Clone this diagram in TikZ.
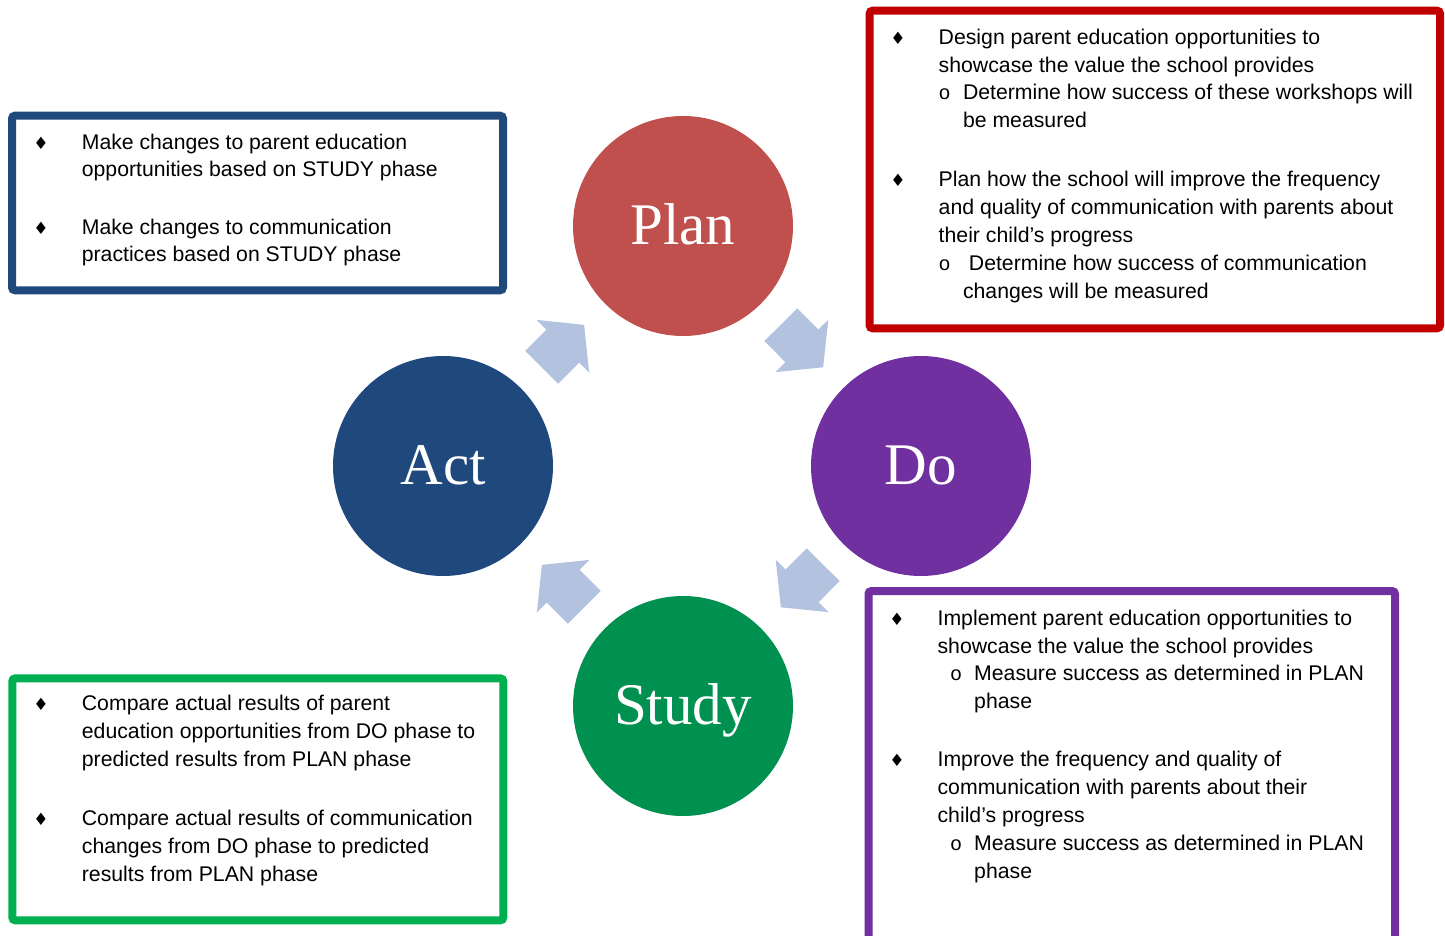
\documentclass[tikz,border=0pt]{standalone}
\usepackage{fontspec}
\setmainfont{Liberation Sans}
\newfontfamily\circfont{Liberation Serif}
\newfontfamily\bulfont{DejaVu Sans}
\newfontfamily\subfont{Liberation Mono}
\usetikzlibrary{shapes.arrows,calc}

\definecolor{planred}{HTML}{C0504D}
\definecolor{dopurple}{HTML}{7030A0}
\definecolor{actblue}{HTML}{1F497D}
\definecolor{studygreen}{HTML}{00904F}
\definecolor{boxred}{HTML}{C00000}
\definecolor{boxgreen}{HTML}{00B050}
\definecolor{arrowblue}{HTML}{B3C3DF}

% lines of one list item, first baseline on the node's base
\newcommand{\lns}[1]{\begin{tabular}[t]{@{}l@{}}#1\end{tabular}}

\tikzset{
  phase/.style={circle, minimum size=220pt, inner sep=0pt, text=white,
    font=\circfont\fontsize{59}{59}\selectfont, text height=36pt, text depth=0pt},
  cyclearrow/.style={single arrow, fill=arrowblue, draw=none,
    inner xsep=0pt, inner ysep=23pt, minimum height=60pt,
    single arrow head extend=14pt, single arrow tip angle=102},
  infobox/.style={line width=8pt, rounded corners=3pt},
  item/.style={anchor=base west, inner sep=0pt, font=\fontsize{21.25}{28}\selectfont},
  itemsm/.style={anchor=base west, inner sep=0pt, font=\fontsize{21.2}{27}\selectfont},
  bul/.style={anchor=base, inner sep=0pt, font=\bulfont\fontsize{17}{17}\selectfont},
  subbul/.style={anchor=base, inner sep=0pt, font=\subfont\fontsize{20}{28}\selectfont},
}

\begin{document}
\begin{tikzpicture}[x=1pt, y=-1pt]
\useasboundingbox (0,0) rectangle (1445,936);
\fill[white] (0,0) rectangle (1445,936);
\clip (0,0) rectangle (1445,936);

% the four phases of the cycle
\node[phase, fill=planred]    (plan)  at (683,226) {Plan};
\node[phase, fill=dopurple]   (do)    at (921,466) {Do};
\node[phase, fill=studygreen] (study) at (683,706) {Study};
\node[phase, fill=actblue]    (act)   at (443,466) {Act};

% block arrows between consecutive phases
\path (act)   -- (plan)  node[pos=0.42, sloped, allow upside down, cyclearrow] (a1) {};
\path (plan)  -- (do)    node[pos=0.42, sloped, allow upside down, cyclearrow] (a2) {};
\path (do)    -- (study) node[pos=0.42, sloped, allow upside down, cyclearrow] (a3) {};
\path (study) -- (act)   node[pos=0.42, sloped, allow upside down, cyclearrow] (a4) {};

% frames of the four descriptions
\draw[infobox, draw=actblue]  (12,115.7)   rectangle (503,290.3);
\draw[infobox, draw=boxred]   (869.6,10.7) rectangle (1440,328.3);
\draw[infobox, draw=dopurple] (868.5,591)  rectangle (1395,960);
\draw[infobox, draw=boxgreen] (12.3,678.3) rectangle (503.3,920.3);

% ACT
\node[bul] (actb1) at (41,149.3) {♦};
\node[itemsm] (actt1) at (81.7,149.3) {\lns{Make changes to parent education\\opportunities based on STUDY phase}};
\node[bul] (actb2) at (41,234.5) {♦};
\node[itemsm] (actt2) at (81.7,234.5) {\lns{Make changes to communication\\practices based on STUDY phase}};

% PLAN
\node[bul] (planb1) at (898,44.3) {♦};
\node[item] (plant1) at (938.5,44.3) {\lns{Design parent education opportunities to\\showcase the value the school provides}};
\node[subbul] (plans1) at (944.6,99.3) {o};
\node[item] (plant1s) at (962.8,99.3) {\lns{Determine how success of these workshops will\\be measured}};
\node[bul] (planb2) at (898,186.7) {♦};
\node[item] (plant2) at (938.5,186.7) {\lns{Plan how the school will improve the frequency\\and quality of communication with parents about\\their child’s progress}};
\node[subbul] (plans2) at (944.6,270.7) {o};
\node[item] (plant2s) at (962.8,270.7) {\lns{\ Determine how success of communication\\changes will be measured}};

% DO
\node[bul] (dob1) at (897,625) {♦};
\node[item] (dot1) at (937.4,625) {\lns{Implement parent education opportunities to\\showcase the value the school provides}};
\node[subbul] (dos1) at (956,680) {o};
\node[item] (dot1s) at (974,680) {\lns{Measure success as determined in PLAN\\phase}};
\node[bul] (dob2) at (897,766.7) {♦};
\node[item] (dot2) at (937.4,766.7) {\lns{Improve the frequency and quality of\\communication with parents about their\\child’s progress}};
\node[subbul] (dos2) at (956,850.7) {o};
\node[item] (dot2s) at (974,850.7) {\lns{Measure success as determined in PLAN\\phase}};

% STUDY
\node[bul] (studyb1) at (41,710.7) {♦};
\node[item] (studyt1) at (81.7,710.7) {\lns{Compare actual results of parent\\education opportunities from DO phase to\\predicted results from PLAN phase}};
\node[bul] (studyb2) at (41,825) {♦};
\node[item] (studyt2) at (81.7,825) {\lns{Compare actual results of communication\\changes from DO phase to predicted\\results from PLAN phase}};
\end{tikzpicture}
\end{document}
